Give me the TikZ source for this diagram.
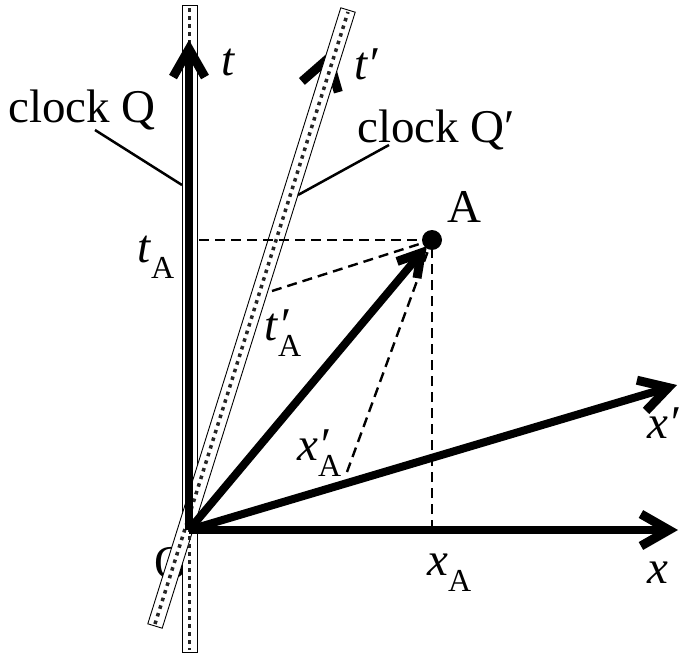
\documentclass[tikz,border=0pt]{standalone}
\usepackage{fontspec}
\setmainfont{Liberation Serif}
\usetikzlibrary{arrows.meta,calc}
\newcommand\subA{\raisebox{-16pt}{\fontsize{32}{32}\selectfont A}}
\newcommand\primesub{\makebox[0pt][l]{\textit{′}}\subA}
\begin{document}
\begin{tikzpicture}[x=1pt,y=-1pt,
  lbl/.style={font=\fontsize{47}{50}\selectfont, inner sep=0pt, anchor=base west},
  axisarrow/.style={line width=8pt, -{Straight Barb[length=28pt,width=32pt,line width=9pt]}},
  guide/.style={line width=2.4pt, dash pattern=on 10pt off 6pt},
  leader/.style={line width=2.5pt},
  strip/.style={fill=white, draw=black, line width=0.9pt},
  clockdots/.style={line width=3.5pt, dash pattern=on 3.5pt off 4.5pt, draw=black!85},
]
\useasboundingbox (0,0) rectangle (681,653);
% points
\coordinate (O) at (189,530);
\coordinate (A) at (432,240);
\coordinate (tT) at (189,40);
\coordinate (tpT) at (331,50);
\coordinate (xT) at (678,530);
\coordinate (xpT) at (677,385);
\coordinate (tA) at (199,240);
\coordinate (tpA) at (272,291);
\coordinate (xpA) at (347,472);
\coordinate (xA) at (432,530);
% origin label (under the strips)
\node[lbl] (labO) at (154,578) {O};
% t' axis, mostly hidden by the clock Q' strip
\draw[line width=8pt, -{Straight Barb[length=30pt,width=38pt,line width=9pt]}] (O) -- (tpT);
% clock strips
\draw[strip] (182,5) rectangle (197,652);
\draw[strip] (147.8,623.8) -- (162.2,628.2) -- (355.2,12.2) -- (340.8,7.8) -- cycle;
\draw[clockdots] (189.5,8) -- (189.5,650);
\draw[clockdots] (155,624) -- (348,12);
% axes
\draw[axisarrow] (O) -- (tT);
\draw[axisarrow] (O) -- (xT);
\draw[axisarrow] (O) -- (xpT);
% guides
\draw[guide] (tA) -- (A);
\draw[guide] (tpA) -- (A);
\draw[guide] (xpA) -- (A);
\draw[guide] (xA) -- (A);
% event A
\draw[line width=8pt, -{Straight Barb[length=22pt,width=26pt,line width=9pt]}, shorten >=8pt] (O) -- (A);
\fill (A) circle (10);
% labels
\node[lbl] (labt) at (221,75) {\textit{t}};
\node[lbl] (labtp) at (354,79) {\textit{t′}};
\node[lbl] (labx) at (647,583) {\textit{x}};
\node[lbl] (labxp) at (647,438) {\textit{x′}};
\node[lbl] (labA) at (447,222) {A};
\node[lbl] (labtA) at (137,262) {\textit{t}\subA};
\node[lbl] (labtpA) at (264,340) {\textit{t}\primesub};
\node[lbl] (labxpA) at (297,460) {\textit{x}\primesub};
\node[lbl] (labxA) at (427,575) {\textit{x}\subA};
\node[lbl] (labQ) at (8,122) {clock Q};
\node[lbl] (labQp) at (357,142) {clock Q′};
% leaders
\coordinate (q1) at (95,130);
\coordinate (q2) at (182,185);
\coordinate (qp1) at (389,145);
\coordinate (qp2) at (298,195);
\draw[leader] (q1) -- (q2);
\draw[leader] (qp1) -- (qp2);
\end{tikzpicture}
\end{document}
